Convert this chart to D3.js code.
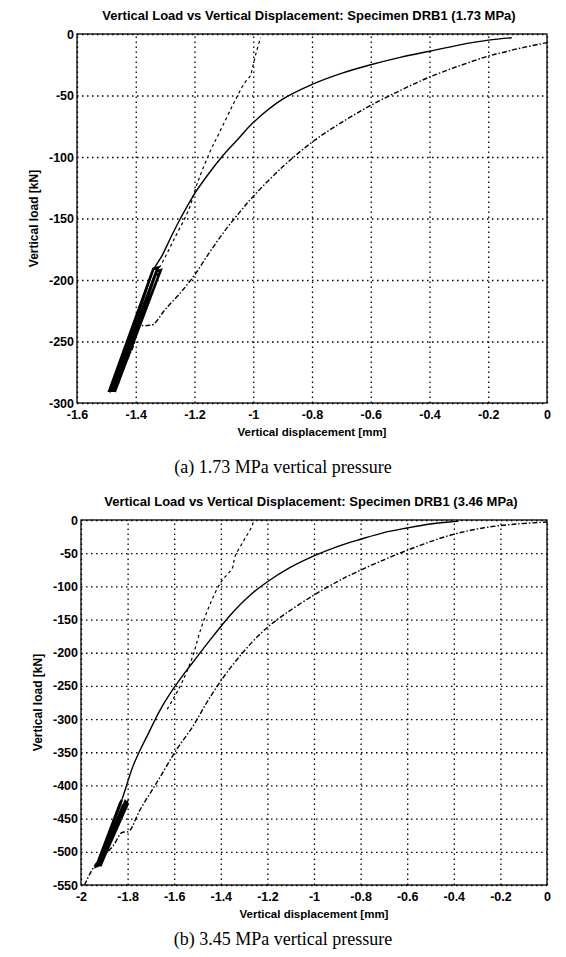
<!DOCTYPE html>
<html>
<head>
<meta charset="utf-8">
<script src="https://cdn.jsdelivr.net/npm/d3@7"></script>
<style>
  body { margin: 0; background: #fff; }
  svg { display: block; }
  .tick text { font-family: "Liberation Sans", Arial, sans-serif; font-weight: bold; font-size: 12.5px; fill: #000; }
  .title, .alabel { font-family: "Liberation Sans", Arial, sans-serif; font-weight: bold; fill: #000; }
  .caption { font-family: "Liberation Serif", "Times New Roman", serif; font-size: 18px; fill: #000; }
  .grid line { stroke: #000; stroke-width: 1.3; stroke-dasharray: 1.5,3.5; }
  .grid path { display: none; }
</style>
</head>
<body>
<svg width="566" height="957"></svg>
<script>
// ---- tick values ----
let xTicksA = [-1.6, -1.4, -1.2, -1, -0.8, -0.6, -0.4, -0.2, 0];
let yTicksA = [0, -50, -100, -150, -200, -250, -300];
let xTicksB = [-2, -1.8, -1.6, -1.4, -1.2, -1, -0.8, -0.6, -0.4, -0.2, 0];
let yTicksB = [0, -50, -100, -150, -200, -250, -300, -350, -400, -450, -500, -550];

// ---- (a) 1.73 MPa : [displacement mm, load kN] ----
let loadA = [[-1.48,-290],[-1.41,-243],[-1.37,-213],[-1.34,-192],[-1.31,-180],[-1.28,-165],[-1.25,-151],
  [-1.2,-130],[-1.15,-113],[-1.1,-98],[-1.05,-85],[-1.0,-72],[-0.9,-53],[-0.8,-41],[-0.7,-32],[-0.6,-25],
  [-0.5,-19],[-0.4,-14],[-0.3,-9],[-0.2,-5],[-0.12,-3]];
let unloadA = [[-1.475,-288],[-1.44,-270],[-1.41,-255],[-1.39,-238],[-1.36,-237],[-1.34,-236],[-1.3,-224],
  [-1.25,-211],[-1.2,-196],[-1.15,-178],[-1.1,-161],[-1.05,-146],[-1.0,-132],[-0.9,-108],[-0.8,-88],
  [-0.7,-72],[-0.6,-58],[-0.5,-46],[-0.4,-35],[-0.3,-26],[-0.2,-18],[-0.15,-15],[-0.1,-12],[0,-7]];
let steepA = [[-1.32,-190],[-1.31,-186],[-1.27,-167],[-1.22,-143],[-1.19,-121],[-1.144,-94],[-1.117,-81],
  [-1.07,-58],[-1.03,-40],[-1.01,-34],[-1.005,-30],[-0.99,-15],[-0.975,-3]];
let cyclesA = [[-1.345,-194],[-1.49,-290],[-1.475,-290],[-1.33,-193],[-1.315,-192],[-1.465,-286],
  [-1.48,-289],[-1.335,-196],[-1.32,-195],[-1.47,-290],[-1.485,-288],[-1.34,-191],[-1.325,-190],
  [-1.46,-284]];

// ---- (b) 3.45 MPa ----
let loadB = [[-1.93,-520],[-1.88,-475],[-1.824,-421],[-1.81,-406],[-1.777,-371],[-1.74,-342],[-1.717,-326],
  [-1.66,-286],[-1.605,-255],[-1.55,-228],[-1.519,-214],[-1.433,-175],[-1.348,-139],[-1.27,-112],[-1.2,-93],
  [-1.1,-71],[-1.0,-54],[-0.9,-40],[-0.8,-29],[-0.7,-19],[-0.6,-12],[-0.5,-6],[-0.42,-3],[-0.38,-2]];
let unloadB = [[-1.985,-550],[-1.96,-532],[-1.93,-515],[-1.9,-505],[-1.86,-490],[-1.825,-471],[-1.8,-470],
  [-1.79,-468],[-1.747,-437],[-1.7,-410],[-1.66,-387],[-1.59,-346],[-1.52,-311],[-1.46,-275],[-1.395,-240],
  [-1.318,-205],[-1.22,-168],[-1.13,-143],[-1.0,-113],[-0.9,-93],[-0.845,-83],[-0.7,-60],
  [-0.558,-40],[-0.416,-23],[-0.275,-12],[-0.13,-6],[0,-3]];
let steepB = [[-1.63,-285],[-1.605,-270],[-1.567,-245],[-1.52,-205],[-1.49,-169],[-1.45,-130],[-1.4,-94],
  [-1.35,-72],[-1.34,-56],[-1.3,-30],[-1.27,-12],[-1.26,-3]];
let cyclesB = [[-1.83,-425],[-1.935,-522],[-1.92,-520],[-1.81,-424],[-1.8,-428],[-1.91,-515],
  [-1.925,-521],[-1.82,-430],[-1.805,-426],[-1.915,-520],[-1.93,-518],[-1.825,-422]];

let titles = ["Vertical Load vs Vertical Displacement: Specimen DRB1 (1.73 MPa)",
              "Vertical Load vs Vertical Displacement: Specimen DRB1 (3.46 MPa)"];
let captions = ["(a)  1.73 MPa vertical pressure", "(b)  3.45 MPa vertical pressure"];

let svg = d3.select("svg");

function drawChart(box, xDom, yDom, xTicks, yTicks, load, unload, steep, cycles, title, caption, capY) {
  let width = box.right - box.left,
      height = box.bottom - box.top;

  let x = d3.scaleLinear().domain(xDom).range([0, width]),
      y = d3.scaleLinear().domain(yDom).range([height, 0]);

  let g = svg.append("g").attr("transform", "translate(" + box.left + "," + box.top + ")");

  // dotted grid
  g.append("g").attr("class", "grid")
    .attr("transform", "translate(0," + height + ")")
    .call(d3.axisBottom(x).tickValues(xTicks).tickSize(-height).tickFormat(""));
  g.append("g").attr("class", "grid")
    .call(d3.axisLeft(y).tickValues(yTicks).tickSize(-width).tickFormat(""));

  // labels
  g.append("g")
    .attr("transform", "translate(0," + height + ")")
    .call(d3.axisBottom(x).tickValues(xTicks).tickSize(0).tickPadding(7).tickFormat(d => String(d)))
    .call(a => a.select(".domain").remove());
  g.append("g")
    .call(d3.axisLeft(y).tickValues(yTicks).tickSize(0).tickPadding(3).tickFormat(d => String(d)))
    .call(a => a.select(".domain").remove());

  let smooth = d3.line().x(d => x(d[0])).y(d => y(d[1])).curve(d3.curveCatmullRom.alpha(0.5));
  let line = d3.line().x(d => x(d[0])).y(d => y(d[1]));

  g.append("path").datum(unload).attr("d", smooth)
    .attr("fill", "none").attr("stroke", "#000").attr("stroke-width", 1.4)
    .attr("stroke-dasharray", "5,2,1.5,2");
  g.append("path").datum(steep).attr("d", smooth)
    .attr("fill", "none").attr("stroke", "#000").attr("stroke-width", 1.2)
    .attr("stroke-dasharray", "3,3");
  g.append("path").datum(load).attr("d", smooth)
    .attr("fill", "none").attr("stroke", "#000").attr("stroke-width", 1.4);
  g.append("path").datum(cycles).attr("d", line)
    .attr("fill", "none").attr("stroke", "#000").attr("stroke-width", 2.6);

  // frame
  g.append("rect").attr("width", width).attr("height", height)
    .attr("fill", "none").attr("stroke", "#000").attr("stroke-width", 1.3);

  g.append("text").attr("class", "title")
    .attr("x", width / 2 - 3).attr("y", -14)
    .attr("text-anchor", "middle").attr("font-size", 13)
    .text(title);

  g.append("text").attr("class", "alabel")
    .attr("x", width / 2).attr("y", height + 33)
    .attr("text-anchor", "middle").attr("font-size", 11.5)
    .text("Vertical displacement [mm]");

  g.append("text").attr("class", "alabel")
    .attr("transform", "rotate(-90)")
    .attr("x", -height / 2).attr("y", -39)
    .attr("text-anchor", "middle").attr("font-size", 12)
    .text("Vertical load [kN]");

  svg.append("text").attr("class", "caption")
    .attr("x", 283).attr("y", capY)
    .attr("text-anchor", "middle")
    .text(caption);
}

drawChart({left: 77, right: 547, top: 34, bottom: 403}, [-1.6, 0], [-300, 0], xTicksA, yTicksA,
  loadA, unloadA, steepA, cyclesA, titles[0], captions[0], 473);
drawChart({left: 81, right: 547, top: 520, bottom: 885}, [-2, 0], [-550, 0], xTicksB, yTicksB,
  loadB, unloadB, steepB, cyclesB, titles[1], captions[1], 945);
</script>
</body>
</html>
